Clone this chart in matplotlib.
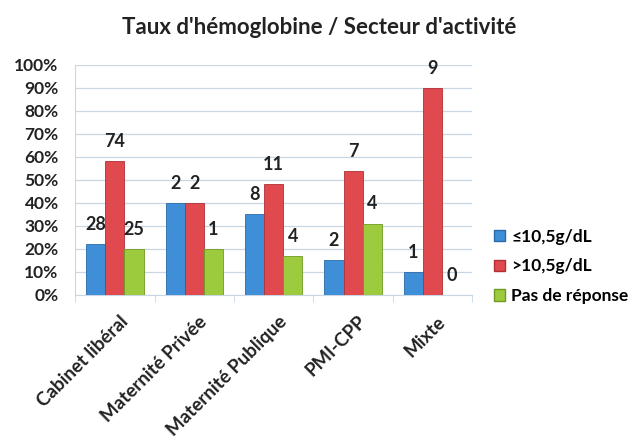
import matplotlib
matplotlib.use("Agg")
import matplotlib.pyplot as plt
import matplotlib.transforms as mtrans
import numpy as np
from matplotlib.patches import Patch

categories = ["Cabinet libéral", "Maternité Privée", "Maternité Publique", "PMI-CPP", "Mixte"]
series_names = ["≤10,5g/dL", ">10,5g/dL", "Pas de réponse"]
pct_low = [22, 40, 35, 15, 10]
pct_high = [58, 40, 48, 54, 90]
pct_none = [20, 20, 17, 31, 0]
n_low = [28, 2, 8, 2, 1]
n_high = [74, 2, 11, 7, 9]
n_none = [25, 1, 4, 4, 0]
yticks = [0, 10, 20, 30, 40, 50, 60, 70, 80, 90, 100]

colors = ["#3f8fd8", "#e04a4e", "#9dcb3e"]
edges = ["#2a6aa8", "#b03035", "#6f9a22"]

plt.rcParams['font.family'] = ['Lato', 'DejaVu Sans']
plt.rcParams['font.weight'] = 'bold'

fig = plt.figure(figsize=(6.38, 4.44), dpi=100)
ax = fig.add_axes([0.118, 0.336, 0.622, 0.518])

x = np.arange(len(categories))
w = 0.24
series = [(pct_low, n_low), (pct_high, n_high), (pct_none, n_none)]
for i, (vals, counts) in enumerate(series):
    xs = x + (i - 1) * w
    ax.bar(xs, vals, width=w, color=colors[i], edgecolor=edges[i], linewidth=0.6,
           label=series_names[i], zorder=3)
    for xi, v, c in zip(xs, vals, counts):
        ax.annotate(str(c), (xi, v), xytext=(0, 8), textcoords='offset points',
                    ha='center', va='bottom', fontsize=13, fontweight='bold', color='#222222')

ax.set_xlim(-0.5, len(categories) - 0.5)
ax.set_ylim(0, 100)
ax.set_yticks(yticks)
ax.set_yticklabels([f"{t}%" for t in yticks], fontsize=12.5, fontweight='bold', color='#222222')
ax.yaxis.grid(True, color='#c9d6e4', linewidth=0.9, zorder=0)
ax.tick_params(axis='y', length=0, pad=12)
ax.set_xticks(x)
ax.set_xticklabels(categories, rotation=45, ha='right', rotation_mode='anchor',
                   fontsize=13.5, fontweight='bold', color='#222222')
ax.tick_params(axis='x', length=0, pad=13)
offset = mtrans.ScaledTranslation(4 / 100, 0, fig.dpi_scale_trans)
for lab in ax.get_xticklabels():
    lab.set_transform(lab.get_transform() + offset)
ax.set_xticks(np.arange(-0.5, len(categories)), minor=True)
ax.tick_params(axis='x', which='minor', length=5, color='#c9d6e4')
for s in ['top', 'right']:
    ax.spines[s].set_visible(False)
ax.spines['left'].set_color('#c9d6e4')
ax.spines['bottom'].set_color('#c9d6e4')

handles = [Patch(facecolor=colors[i], edgecolor=edges[i], label=series_names[i]) for i in range(3)]
fig.legend(handles=handles, loc='center left', bbox_to_anchor=(0.75, 0.40), frameon=False,
           handlelength=0.65, handleheight=0.65, handletextpad=0.35, labelspacing=0.8,
           prop={'weight': 'bold', 'size': 12.5})

fig.text(0.5, 0.937, "Taux d'hémoglobine / Secteur d'activité", ha='center', va='center',
         fontsize=16, fontweight='bold', color='#222222')

fig.savefig("out.png", dpi=100, facecolor='white')
